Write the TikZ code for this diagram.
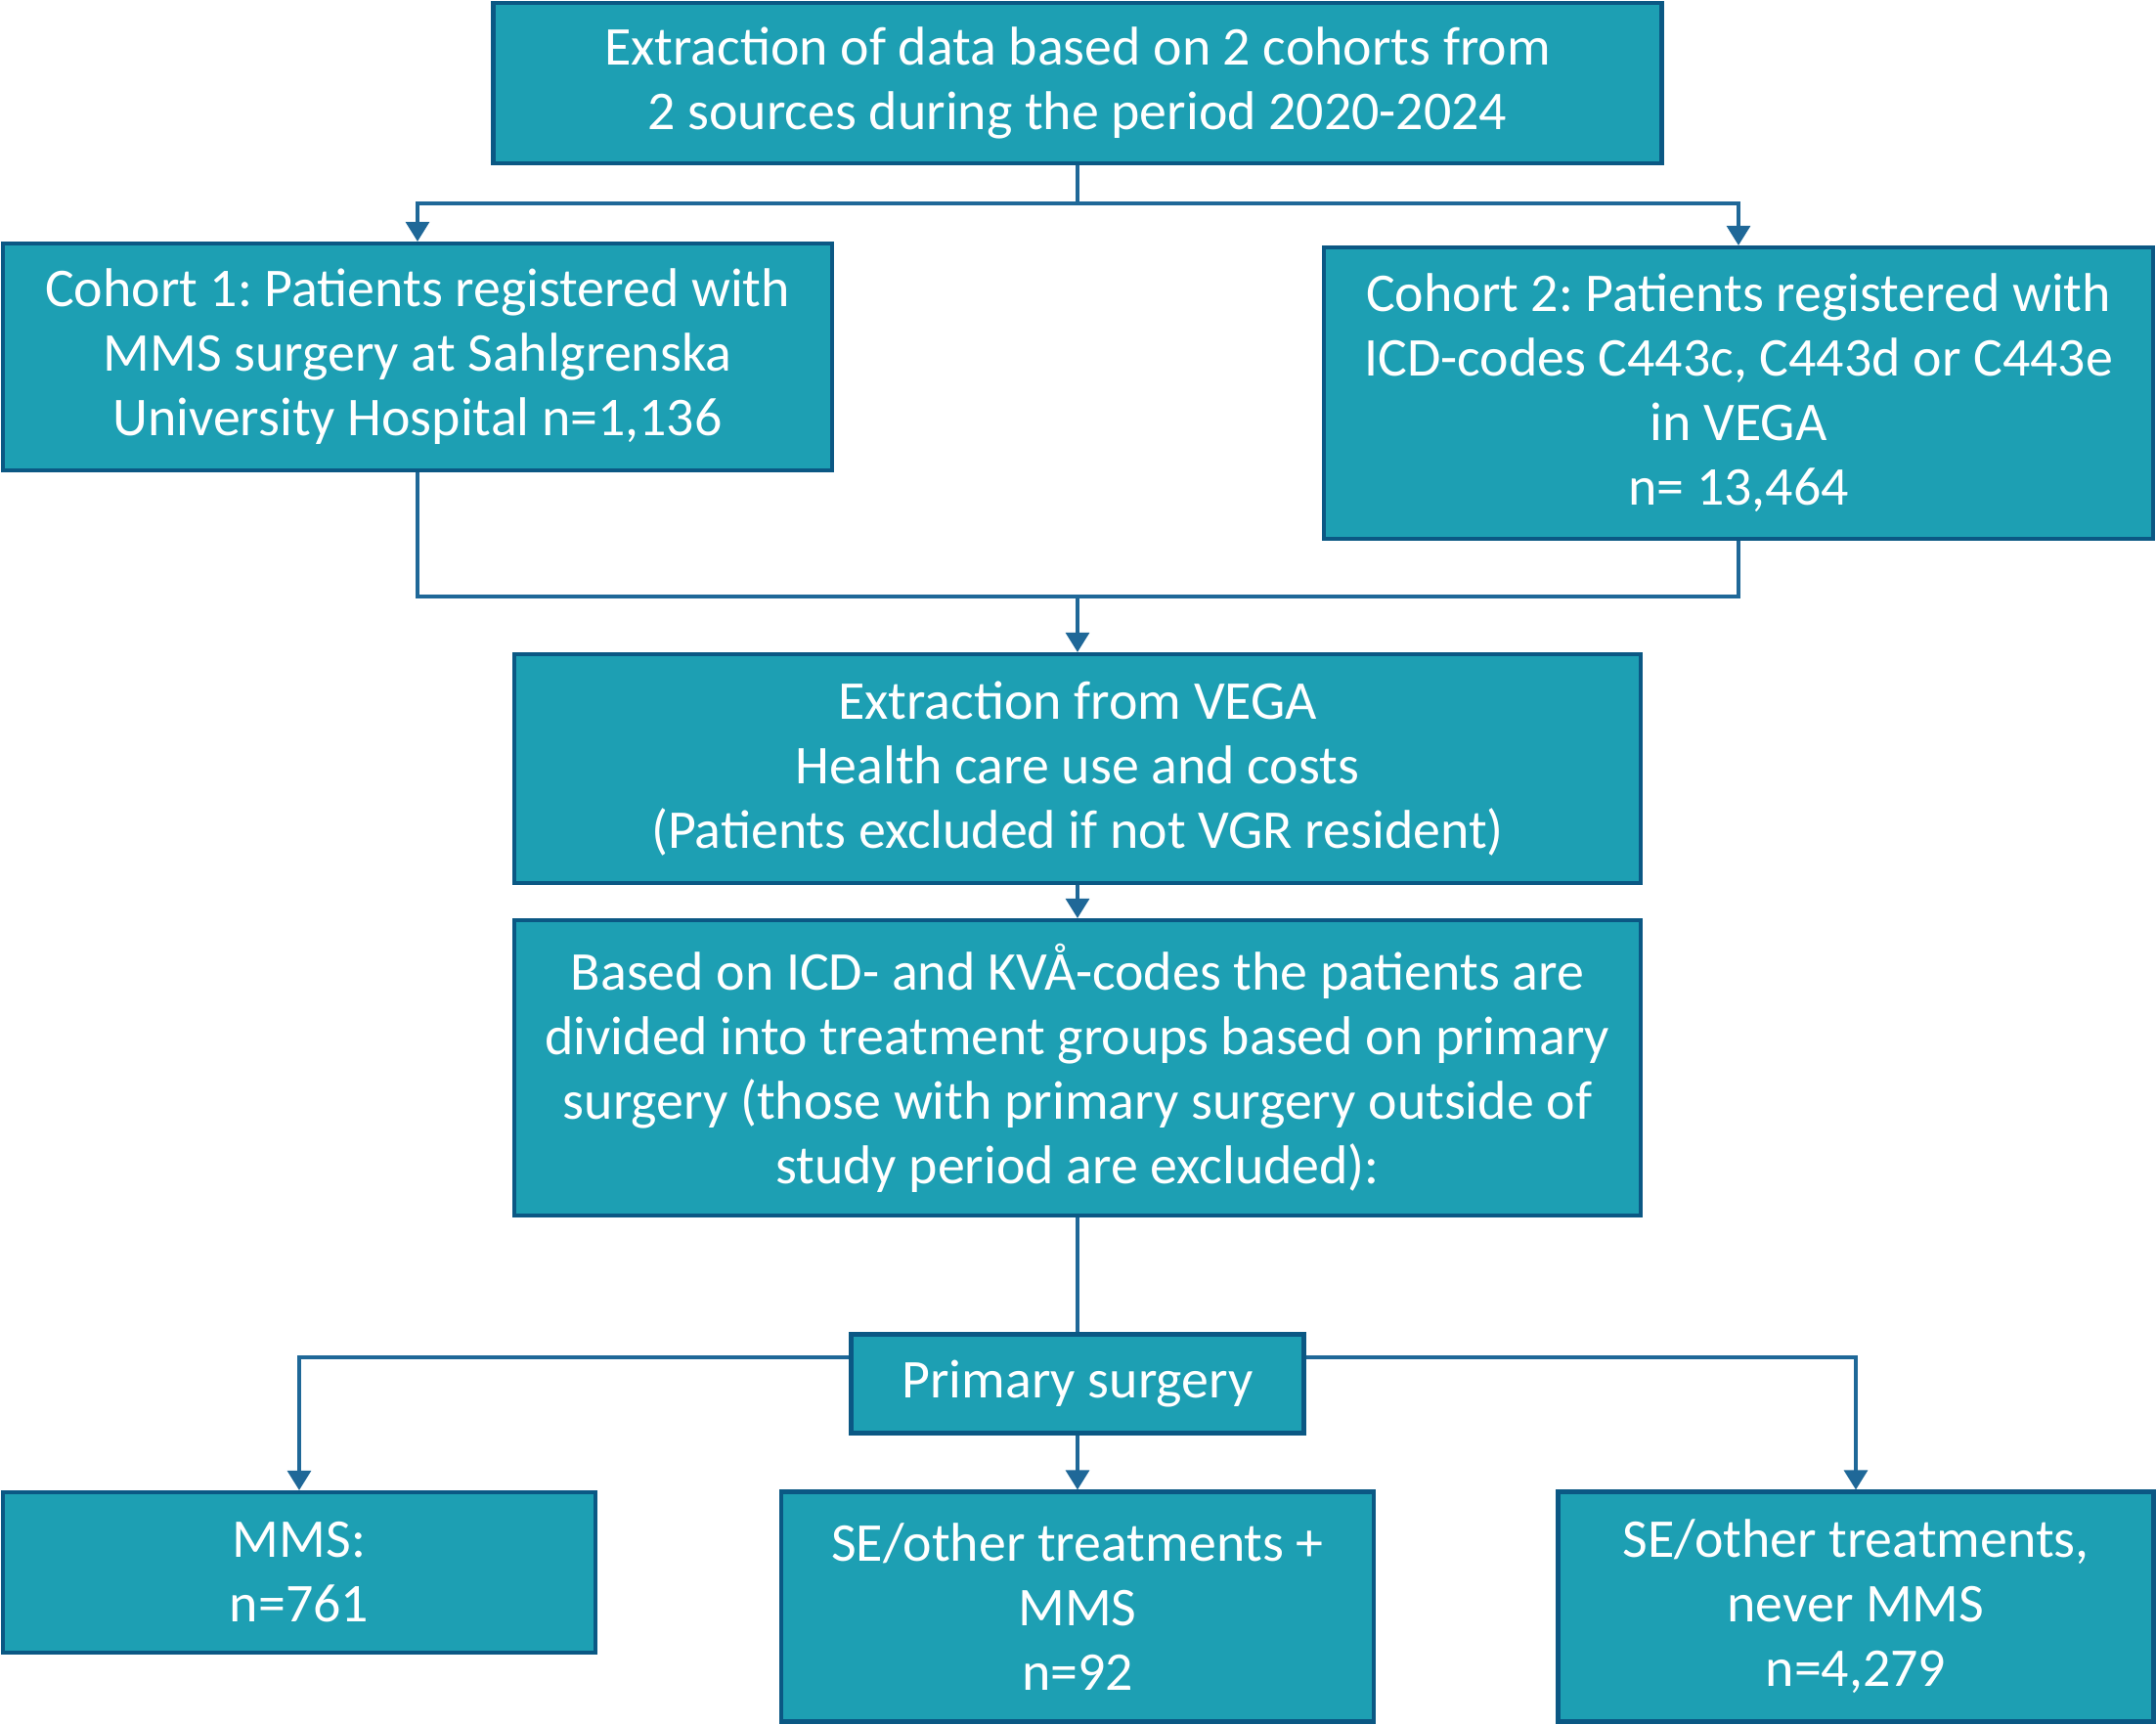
\documentclass[tikz,border=0pt]{standalone}
\usepackage{fontspec}
\setmainfont{Carlito}
\usepackage{tikz}
\usetikzlibrary{arrows.meta}
\definecolor{boxfill}{HTML}{1D9FB3}
\definecolor{boxline}{HTML}{0B5884}
\definecolor{linkcol}{HTML}{1F6898}
\frenchspacing

\begin{document}
\begin{tikzpicture}[
box/.style={rectangle, draw=boxline, line width=1.2pt, fill=boxfill, text=white,
  align=center, inner sep=0pt, font=\fontsize{15.9}{18.8}\selectfont},
link/.style={draw=linkcol, line width=0.9pt},
arrow/.style={link, -{Triangle[width=0.24cm,length=0.2cm]}, color=linkcol}
]
\useasboundingbox (0,0) rectangle (22.05,-17.63);
% draws boxes
\node[box, minimum width=11.95cm, minimum height=1.64cm] (extract) at (11.02,-0.85)
{Extraction of data based on 2 cohorts from\\2 sources during the period 2020-2024};
\node[box, minimum width=8.48cm, minimum height=2.32cm] (cohort1) at (4.27,-3.65)
{Cohort 1: Patients registered with\\MMS surgery at Sahlgrenska\\University Hospital n=1,136};
\node[box, minimum width=8.48cm, minimum height=2.98cm] (cohort2) at (17.78,-4.02)
{Cohort 2: Patients registered with\\ICD-codes C443c, C443d or C443e\\in VEGA\\n= 13,464};
\node[box, minimum width=11.52cm, minimum height=2.34cm] (vega) at (11.02,-7.86)
{Extraction from VEGA\\Health care use and costs\\(Patients excluded if not VGR resident)};
\node[box, minimum width=11.52cm, minimum height=3.02cm] (groups) at (11.02,-10.92)
{Based on ICD- and KVÅ-codes the patients are\\divided into treatment groups based on primary\\surgery (those with primary surgery outside of\\study period are excluded):};
\node[box, minimum width=4.63cm, minimum height=1.01cm] (primary) at (11.02,-14.15)
{Primary surgery};
\node[box, minimum width=6.06cm, minimum height=1.64cm] (mms) at (3.06,-16.08)
{MMS:\\n=761};
\node[box, minimum width=6.06cm, minimum height=2.35cm] (semms) at (11.02,-16.43)
{SE/other treatments +\\MMS\\n=92};
\node[box, minimum width=6.09cm, minimum height=2.35cm] (senever) at (18.98,-16.43)
{SE/other treatments,\\never MMS\\n=4,279};
% draws connectors
\coordinate (split) at (11.02,-2.08);
\coordinate (merge) at (11.02,-6.10);
\draw[link] (extract.south) -- (split);
\draw[arrow] (split) -| (cohort1.north);
\draw[arrow] (split) -| (cohort2.north);
\draw[link] (cohort1.south) |- (merge) -| (cohort2.south);
\draw[arrow] (merge) -- (vega.north);
\draw[arrow] (vega.south) -- (groups.north);
\draw[link] (groups.south) -- (primary.north);
\draw[arrow] ([yshift=0.27cm]primary.west) -| (mms.north);
\draw[arrow] (primary.south) -- (semms.north);
\draw[arrow] ([yshift=0.27cm]primary.east) -| (senever.north);
\end{tikzpicture}
\end{document}
